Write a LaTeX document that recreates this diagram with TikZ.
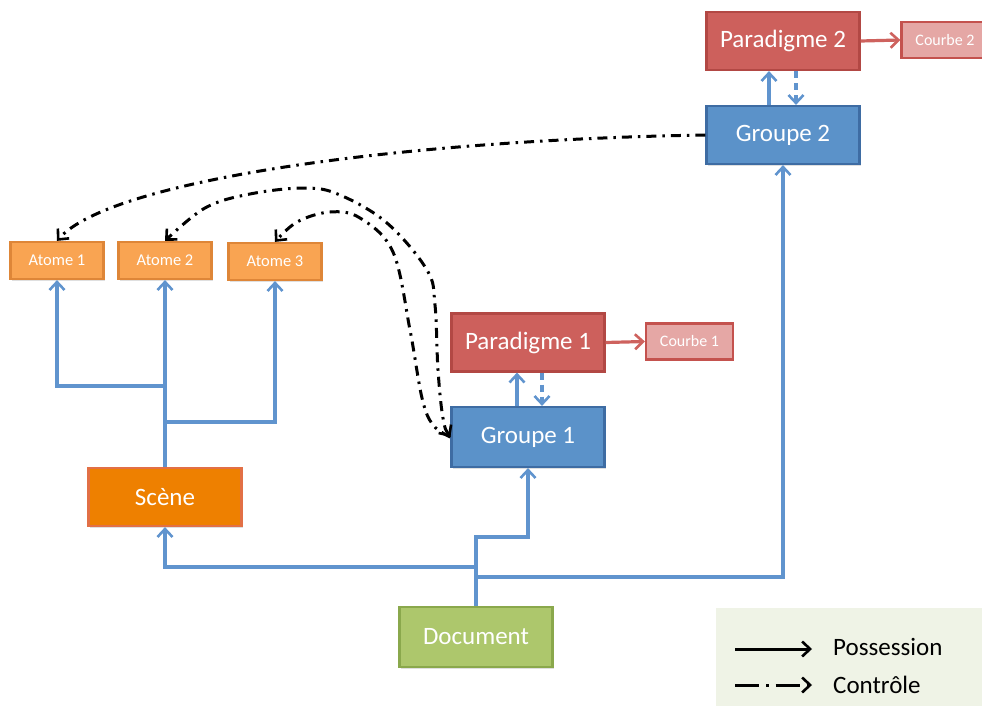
\documentclass[tikz,border=0pt]{standalone}
\usepackage{fontspec}
\setmainfont{Carlito}
\usetikzlibrary{arrows.meta,shadows}

\definecolor{paraFill}{RGB}{205,96,92}
\definecolor{paraLine}{RGB}{178,72,68}
\definecolor{courbeFill}{RGB}{229,167,165}
\definecolor{courbeLine}{RGB}{196,82,78}
\definecolor{groupFill}{RGB}{91,146,201}
\definecolor{groupLine}{RGB}{62,108,163}
\definecolor{atomFill}{RGB}{249,164,82}
\definecolor{atomLine}{RGB}{222,134,56}
\definecolor{sceneFill}{RGB}{238,128,0}
\definecolor{sceneLine}{RGB}{226,112,70}
\definecolor{docFill}{RGB}{173,199,108}
\definecolor{docLine}{RGB}{138,168,76}
\definecolor{legendFill}{RGB}{239,243,230}
\definecolor{ownLine}{RGB}{96,148,206}
\definecolor{linkRed}{RGB}{206,98,94}

\tikzset{
  box/.style={rectangle, inner sep=0pt, line width=2.2pt, text=white,
    drop shadow={shadow xshift=1pt, shadow yshift=-1.5pt, opacity=0.25}},
  bigbox/.style={box, minimum width=153pt, minimum height=58pt, font=\fontsize{25}{30}\selectfont},
  atombox/.style={box, fill=atomFill, draw=atomLine, minimum width=93pt, minimum height=37pt, font=\fontsize{16.5}{19}\selectfont},
  curvebox/.style={box, fill=courbeFill, draw=courbeLine, minimum width=87pt, minimum height=36pt, font=\fontsize{16}{19}\selectfont},
  barb/.tip={Straight Barb[length=8pt,width=15pt,line width=2.6pt]},
  tip/.style={-barb},
  own/.style={tip, draw=ownLine, line width=3.6pt},
  ownctl/.style={own, dash pattern=on 7pt off 5pt},
  redlink/.style={tip, draw=linkRed, line width=3.2pt},
  control/.style={tip, draw=black, line width=3pt, dash pattern=on 10pt off 6pt on 2.5pt off 6pt},
  legendtext/.style={anchor=west, font=\fontsize{25}{30}\selectfont, text=black, inner sep=0pt}
}

\begin{document}
\begin{tikzpicture}[x=1pt,y=-1pt]
  \useasboundingbox (0,0) rectangle (982,706);

  % legend panel
  \fill[legendFill] (716,608) rectangle (990,706);

  % boxes
  \node[bigbox, fill=paraFill, draw=paraLine] (P2) at (783,41) {Paradigme 2};
  \node[curvebox] (C2) at (945,40) {Courbe 2};
  \node[bigbox, fill=groupFill, draw=groupLine] (G2) at (783,135) {Groupe 2};

  \node[atombox] (A1) at (57,260.5) {Atome 1};
  \node[atombox] (A2) at (165,260.5) {Atome 2};
  \node[atombox] (A3) at (275,261.5) {Atome 3};

  \node[bigbox, fill=paraFill, draw=paraLine] (P1) at (528,342.5) {Paradigme 1};
  \node[curvebox] (C1) at (689.5,341.5) {Courbe 1};
  \node[bigbox, fill=groupFill, draw=groupLine, minimum height=60pt] (G1) at (528,437) {Groupe 1};

  \node[bigbox, fill=sceneFill, draw=sceneLine] (S) at (165,497) {Scène};
  \node[bigbox, fill=docFill, draw=docLine, minimum height=60pt] (D) at (476,637) {Document};

  % possession: scene owns the atoms
  \draw[own] (S.north) |- (57,386) -- (A1.south);
  \draw[own] (S.north) -- (A2.south);
  \draw[own] (S.north) |- (275,422) -- (A3.south);

  % possession: document owns scene and groups
  \draw[own] (D.north) |- (165,567) -- (S.south);
  \draw[own] (D.north) |- (528,537) -- (G1.south);
  \draw[own] (D.north) |- (783,577) -- (G2.south);

  % group / paradigm links
  \draw[own] ([xshift=-14pt]G2.north) -- ([xshift=-14pt]P2.south);
  \draw[ownctl] ([xshift=13pt]P2.south) -- ([xshift=13pt]G2.north);
  \draw[own] ([xshift=-11pt]G1.north) -- ([xshift=-11pt]P1.south);
  \draw[ownctl] ([xshift=14pt]P1.south) -- ([xshift=14pt]G1.north);

  % paradigm to curve
  \draw[redlink] (P2.east) -- (C2.west);
  \draw[redlink] (P1.east) -- (C1.west);

  % control links
  \draw[control] (G2.west) .. controls (400,140) and (110,180) .. (A1.north);
  \draw[control, barb-barb]
    plot[smooth, tension=0.6] coordinates {(G1.west) (443,418) (438,370) (435,305) (427,270) (387,223) (340,195) (305,188) (250,194) (205,208) (A2.north)};
  \draw[control]
    plot[smooth, tension=0.6] coordinates {(G1.west) (433,425) (422,398) (410,330) (393,252) (360,218) (330,212) (297,222) (A3.north)};

  % legend
  \coordinate (la1) at (735,649);
  \coordinate (lb1) at (812,649);
  \coordinate (la2) at (735,685);
  \coordinate (lb2) at (812,685);
  \draw[tip, line width=3pt] (la1) -- (lb1);
  \draw[control, dash pattern=on 24pt off 7pt on 2.5pt off 7pt] (la2) -- (lb2);
  \node[legendtext] (lp) at (833,647) {Possession};
  \node[legendtext] (lc) at (833,685) {Contrôle};
\end{tikzpicture}
\end{document}
